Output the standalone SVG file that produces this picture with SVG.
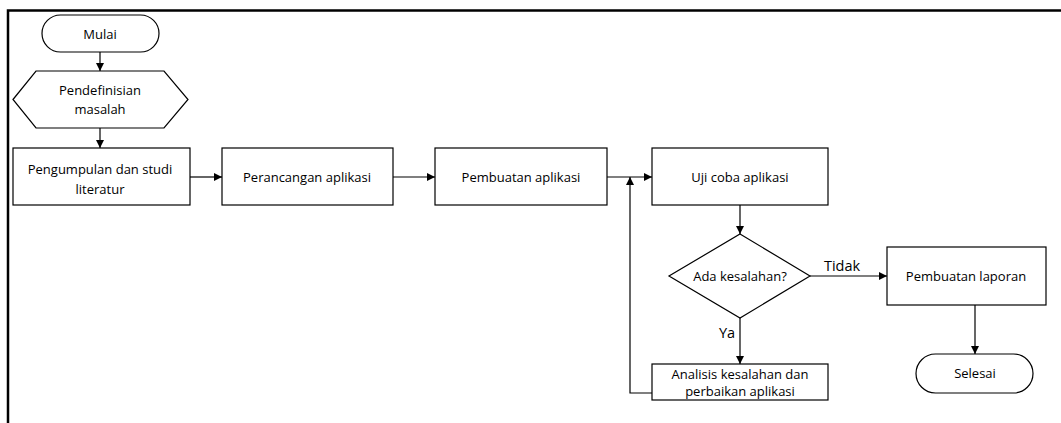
<svg xmlns="http://www.w3.org/2000/svg" width="1061" height="423" viewBox="0 0 1061 423">
<defs>
<style>
.s{fill:#fff;stroke:#000;stroke-width:1.2}
.t{font-family:"Open Sans","Noto Sans",sans-serif;font-size:13px;fill:#000;text-anchor:middle}
.l{font-family:"Open Sans","Noto Sans",sans-serif;font-size:14.5px;fill:#000;text-anchor:middle}
.c{fill:none;stroke:#000;stroke-width:1.2}
</style>
<marker id="a" viewBox="0 0 10 10" refX="10" refY="5" markerWidth="8" markerHeight="8" markerUnits="userSpaceOnUse" orient="auto"><path d="M0,0L10,5L0,10z" fill="#000"/></marker>
</defs>
<rect width="1061" height="423" fill="#fff"/>
<path d="M8,423V10.5H1061" fill="none" stroke="#000" stroke-width="2.5"/>
<g id="connectors">
<path class="c" d="M100,52V71" marker-end="url(#a)"/>
<path class="c" d="M100,128V148" marker-end="url(#a)"/>
<path class="c" d="M190,177H222" marker-end="url(#a)"/>
<path class="c" d="M393,177H435" marker-end="url(#a)"/>
<path class="c" d="M607,177H652" marker-end="url(#a)"/>
<path class="c" d="M740,205V234" marker-end="url(#a)"/>
<path class="c" d="M810,276H887" marker-end="url(#a)"/>
<path class="c" d="M740,318V364" marker-end="url(#a)"/>
<path class="c" d="M652,393H630V177" marker-end="url(#a)"/>
<path class="c" d="M975,305V354" marker-end="url(#a)"/>
<text class="l" x="842" y="271">Tidak</text>
<text class="l" x="727" y="338">Ya</text>
</g>
<g id="mulai"><rect class="s" x="42" y="15" width="117" height="37" rx="18.5"/><text class="t" x="100" y="38.5">Mulai</text></g>
<g id="pendefinisian"><path class="s" d="M13,99.5L36,71H164L188,99.5L164,128H36z"/><text class="t" x="100" y="95">Pendefinisian</text><text class="t" x="100" y="114">masalah</text></g>
<g id="pengumpulan"><rect class="s" x="13" y="148" width="177" height="57"/><text class="t" x="100" y="174">Pengumpulan dan studi</text><text class="t" x="100" y="194">literatur</text></g>
<g id="perancangan"><rect class="s" x="222" y="148" width="171" height="57"/><text class="t" x="307" y="181.5">Perancangan aplikasi</text></g>
<g id="pembuatan"><rect class="s" x="435" y="148" width="172" height="57"/><text class="t" x="521" y="181.5">Pembuatan aplikasi</text></g>
<g id="ujicoba"><rect class="s" x="652" y="148" width="176" height="57"/><text class="t" x="740" y="181.5">Uji coba aplikasi</text></g>
<g id="kesalahan"><path class="s" d="M740,234L810,276L740,318L669,276z"/><text class="t" x="740" y="280.5">Ada kesalahan?</text></g>
<g id="analisis"><rect class="s" x="652" y="364" width="176" height="36"/><text class="t" x="740" y="379">Analisis kesalahan dan</text><text class="t" x="740" y="396">perbaikan aplikasi</text></g>
<g id="laporan"><rect class="s" x="887" y="247" width="159" height="58"/><text class="t" x="966" y="280.5">Pembuatan laporan</text></g>
<g id="selesai"><rect class="s" x="916" y="354" width="117" height="39" rx="19.5"/><text class="t" x="975" y="378">Selesai</text></g>
</svg>
